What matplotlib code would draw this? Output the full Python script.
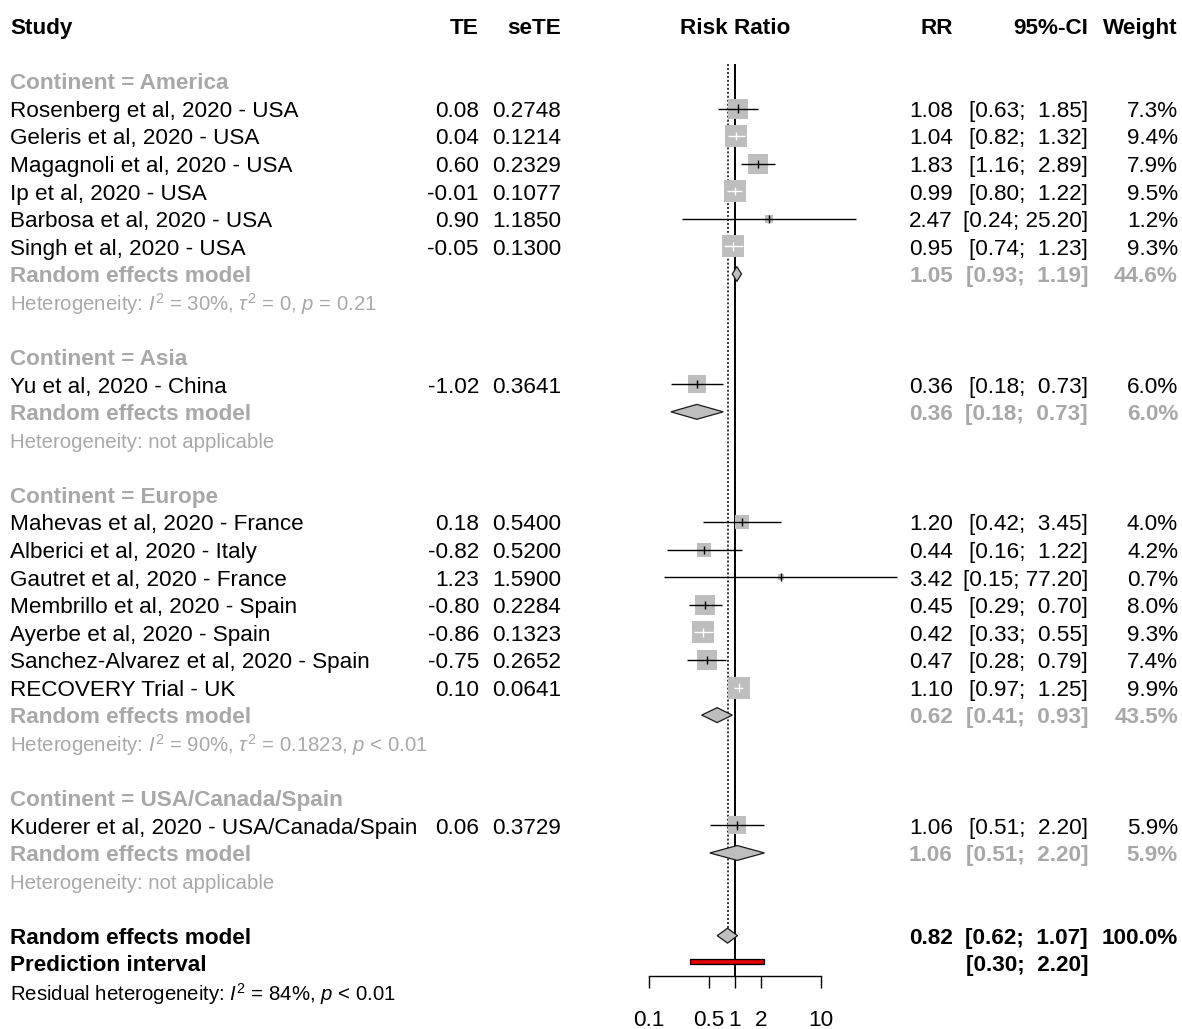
import numpy as np
import matplotlib.pyplot as plt
from matplotlib.transforms import blended_transform_factory
from matplotlib.ticker import NullLocator

plt.rcParams['font.family'] = ['Liberation Sans', 'DejaVu Sans']
plt.rcParams['mathtext.fontset'] = 'custom'
plt.rcParams['mathtext.rm'] = 'Liberation Sans'
plt.rcParams['mathtext.it'] = 'Liberation Sans:italic'
plt.rcParams['mathtext.bf'] = 'Liberation Sans:bold'

# data
groups = ["America", "Asia", "Europe", "USA/Canada/Spain"]
studies = ["Rosenberg et al, 2020 - USA", "Geleris et al, 2020 - USA",
           "Magagnoli et al, 2020 - USA", "Ip et al, 2020 - USA",
           "Barbosa et al, 2020 - USA", "Singh et al, 2020 - USA",
           "Yu et al, 2020 - China",
           "Mahevas et al, 2020 - France", "Alberici et al, 2020 - Italy",
           "Gautret et al, 2020 - France", "Membrillo et al, 2020 - Spain",
           "Ayerbe et al, 2020 - Spain", "Sanchez-Alvarez et al, 2020 - Spain",
           "RECOVERY Trial - UK",
           "Kuderer et al, 2020 - USA/Canada/Spain"]
study_group = [0, 0, 0, 0, 0, 0, 1, 2, 2, 2, 2, 2, 2, 2, 3]
te = [0.08, 0.04, 0.60, -0.01, 0.90, -0.05, -1.02,
      0.18, -0.82, 1.23, -0.80, -0.86, -0.75, 0.10, 0.06]
se_te = [0.2748, 0.1214, 0.2329, 0.1077, 1.1850, 0.1300, 0.3641,
         0.5400, 0.5200, 1.5900, 0.2284, 0.1323, 0.2652, 0.0641, 0.3729]
rr = [1.08, 1.04, 1.83, 0.99, 2.47, 0.95, 0.36,
      1.20, 0.44, 3.42, 0.45, 0.42, 0.47, 1.10, 1.06]
rr_lo = [0.63, 0.82, 1.16, 0.80, 0.24, 0.74, 0.18,
         0.42, 0.16, 0.15, 0.29, 0.33, 0.28, 0.97, 0.51]
rr_hi = [1.85, 1.32, 2.89, 1.22, 25.20, 1.23, 0.73,
         3.45, 1.22, 77.20, 0.70, 0.55, 0.79, 1.25, 2.20]
weight = [7.3, 9.4, 7.9, 9.5, 1.2, 9.3, 6.0,
          4.0, 4.2, 0.7, 8.0, 9.3, 7.4, 9.9, 5.9]

grp_rr = [1.05, 0.36, 0.62, 1.06]
grp_lo = [0.93, 0.18, 0.41, 0.51]
grp_hi = [1.19, 0.73, 0.93, 2.20]
grp_w = [44.6, 6.0, 43.5, 5.9]
grp_het = [r"Heterogeneity: $I^2$ = 30%, $\tau^2$ = 0, $p$ = 0.21",
           "Heterogeneity: not applicable",
           r"Heterogeneity: $I^2$ = 90%, $\tau^2$ = 0.1823, $p$ < 0.01",
           "Heterogeneity: not applicable"]

overall = (0.82, 0.62, 1.07)
pred_int = (0.30, 2.20)
resid_het = r"Residual heterogeneity: $I^2$ = 84%, $p$ < 0.01"
xticks = [0.1, 0.5, 1, 2, 10]

# layout (pixels)
W, H = 1182, 1029
row0, dy = 81, 27.57
x1px, dec = 735, 86
fs, fs_het = 16.2, 14.7
grey_txt = '#a8a8a8'
grey_box = '#bebebe'
toff = 0.1  # text nudge down, in rows

fig = plt.figure(figsize=(W / 100, H / 100), dpi=100)
ax = fig.add_axes([0, 0, 1, 1])
ax.set_xscale('log')
ax.set_xlim(10 ** (-x1px / dec), 10 ** ((W - x1px) / dec))
ax.set_ylim((H - row0) / dy, -row0 / dy)
ax.axis('off')
tr = blended_transform_factory(fig.transFigure, ax.transData)


def txt(px, row, s, ha='left', **kw):
    kw.setdefault('fontsize', fs)
    ax.text(px / W, row + toff, s, ha=ha, va='center', transform=tr, **kw)


# header
hdr = dict(fontweight='bold')
txt(10, -2, "Study", **hdr)
txt(479, -2, "TE", ha='right', **hdr)
txt(561, -2, "seTE", ha='right', **hdr)
txt(735, -2, "Risk Ratio", ha='center', **hdr)
txt(953, -2, "RR", ha='right', **hdr)
txt(1088, -2, "95%-CI", ha='right', **hdr)
txt(1178, -2, "Weight", ha='right', **hdr)


def ci_str(lo, hi):
    return "[{:.2f}; {:>5.2f}]".format(lo, hi)


def diamond(row, m, lo, hi):
    h = 0.27
    ax.fill([lo, m, hi, m], [row, row - h, row, row + h],
            facecolor=grey_box, edgecolor='#1a1a1a', lw=0.9, zorder=3)


row = 0
for g, name in enumerate(groups):
    txt(10, row, "Continent = " + name, color=grey_txt, fontweight='bold')
    row += 1
    for i in range(len(studies)):
        if study_group[i] != g:
            continue
        txt(10, row, studies[i])
        txt(479, row, "{:.2f}".format(te[i]), ha='right')
        txt(561, row, "{:.4f}".format(se_te[i]), ha='right')
        txt(953, row, "{:.2f}".format(rr[i]), ha='right')
        txt(1088, row, ci_str(rr_lo[i], rr_hi[i]), ha='right')
        txt(1178, row, "{:.1f}%".format(weight[i]), ha='right')
        # square area proportional to weight
        side = 7.3 * np.sqrt(weight[i])
        ax.plot(rr[i], row, marker='s', ms=side * 0.72, color=grey_box,
                mew=0, zorder=2)
        half = side / 2 / dec
        inside = (np.log10(rr_hi[i] / rr[i]) < half and
                  np.log10(rr[i] / rr_lo[i]) < half)
        c = 'white' if inside else 'black'
        ax.hlines(row, rr_lo[i], rr_hi[i], color=c, lw=1.0, zorder=4)
        ax.vlines(rr[i], row - 0.15, row + 0.15, color=c, lw=1.0, zorder=4)
        row += 1
    txt(10, row, "Random effects model", color=grey_txt, fontweight='bold')
    txt(953, row, "{:.2f}".format(grp_rr[g]), ha='right', color=grey_txt, fontweight='bold')
    txt(1088, row, ci_str(grp_lo[g], grp_hi[g]), ha='right', color=grey_txt, fontweight='bold')
    txt(1178, row, "{:.1f}%".format(grp_w[g]), ha='right', color=grey_txt, fontweight='bold')
    diamond(row, grp_rr[g], grp_lo[g], grp_hi[g])
    row += 1
    txt(10, row, grp_het[g], color=grey_txt, fontsize=fs_het)
    row += 2

# overall
txt(10, row, "Random effects model", fontweight='bold')
txt(953, row, "{:.2f}".format(overall[0]), ha='right', fontweight='bold')
txt(1088, row, ci_str(overall[1], overall[2]), ha='right', fontweight='bold')
txt(1178, row, "100.0%", ha='right', fontweight='bold')
diamond(row, *overall)
row_overall = row
row += 1
txt(10, row, "Prediction interval", fontweight='bold')
txt(1088, row, ci_str(*pred_int), ha='right', fontweight='bold')
ph = 0.09
ax.fill([pred_int[0], pred_int[1], pred_int[1], pred_int[0]],
        [row - 0.07 - ph, row - 0.07 - ph, row - 0.07 + ph, row - 0.07 + ph],
        facecolor='#e00000', edgecolor='black', lw=0.9, zorder=3)
row += 1
txt(10, row, resid_het, fontsize=fs_het)

axis_row = (976 - row0) / dy
top_row = (64 - row0) / dy
ax.vlines(1, top_row, axis_row, color='black', lw=1.4, zorder=1)
ax.vlines(overall[0], top_row, row_overall - 0.27, color='black', lw=1.1,
          linestyles=(0, (1.3, 1.3)), zorder=1)

# x axis
ax2 = fig.add_axes([649 / W, 1 - 976 / H, 172 / W, 0.0001])
ax2.set_xscale('log')
ax2.set_xlim(0.1, 10)
for s in ['top', 'left', 'right']:
    ax2.spines[s].set_visible(False)
ax2.spines['bottom'].set_linewidth(1.0)
ax2.set_yticks([])
ax2.set_xticks(xticks)
ax2.set_xticklabels([str(t) for t in xticks], fontsize=fs)
ax2.xaxis.set_minor_locator(NullLocator())
ax2.tick_params(axis='x', direction='out', length=8.6, width=1.0, pad=16)
ax2.patch.set_visible(False)

fig.savefig('out.png', dpi=100)
